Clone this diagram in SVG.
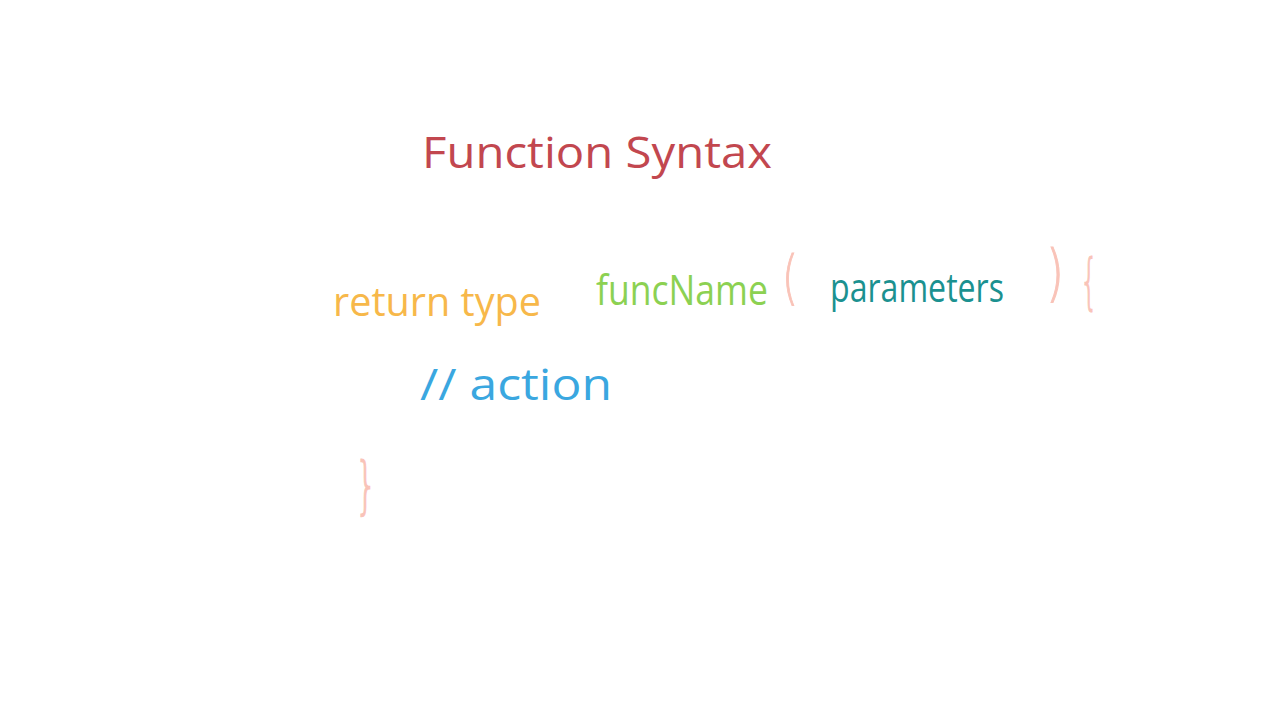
<svg xmlns="http://www.w3.org/2000/svg" width="1280" height="719" viewBox="0 0 1280 719">
  <style>
    .ink { font-family: "Open Sans", "Liberation Sans", sans-serif; font-weight: 400; }
    .title { fill: #c2474f; }
    .ret { fill: #f7b84a; }
    .fn { fill: #8cd152; }
    .param { fill: #1b9190; }
    .brace { fill: #f9c3b8; stroke: #f9c3b8; stroke-width: 0.8; font-family: "DejaVu Sans", "Liberation Sans", sans-serif; font-weight: 200; }
    .action { fill: #3aa7e0; }
  </style>
  <rect width="1280" height="719" fill="#ffffff"/>

  <g id="title">
    <text class="ink title" x="422" y="168" font-size="44" textLength="350" lengthAdjust="spacingAndGlyphs">Function  Syntax</text>
  </g>

  <g id="signature">
    <text class="ink ret" x="333" y="316" font-size="40" textLength="208" lengthAdjust="spacingAndGlyphs">return type</text>
    <text class="ink fn" transform="translate(596,305) scale(1,1.2)" font-size="35" textLength="172" lengthAdjust="spacingAndGlyphs">funcName</text>
    <text class="brace" transform="translate(782,298) scale(1,1.45)" font-size="40" textLength="16" lengthAdjust="spacingAndGlyphs">(</text>
    <text class="ink param" transform="translate(830,302) scale(1,1.25)" font-size="32" textLength="174" lengthAdjust="spacingAndGlyphs">parameters</text>
    <text class="brace" transform="translate(1046,294) scale(1,1.55)" font-size="40" textLength="18" lengthAdjust="spacingAndGlyphs">)</text>
    <text class="brace" transform="translate(1080,302) scale(1,1.5)" font-size="40" textLength="18" lengthAdjust="spacingAndGlyphs">{</text>
  </g>

  <g id="body">
    <text class="ink action" x="420" y="400" font-size="44" textLength="192" lengthAdjust="spacingAndGlyphs">// action</text>
  </g>

  <g id="closing">
    <text class="brace" transform="translate(355,506) scale(1,1.55)" font-size="40" textLength="22" lengthAdjust="spacingAndGlyphs">}</text>
  </g>
</svg>
